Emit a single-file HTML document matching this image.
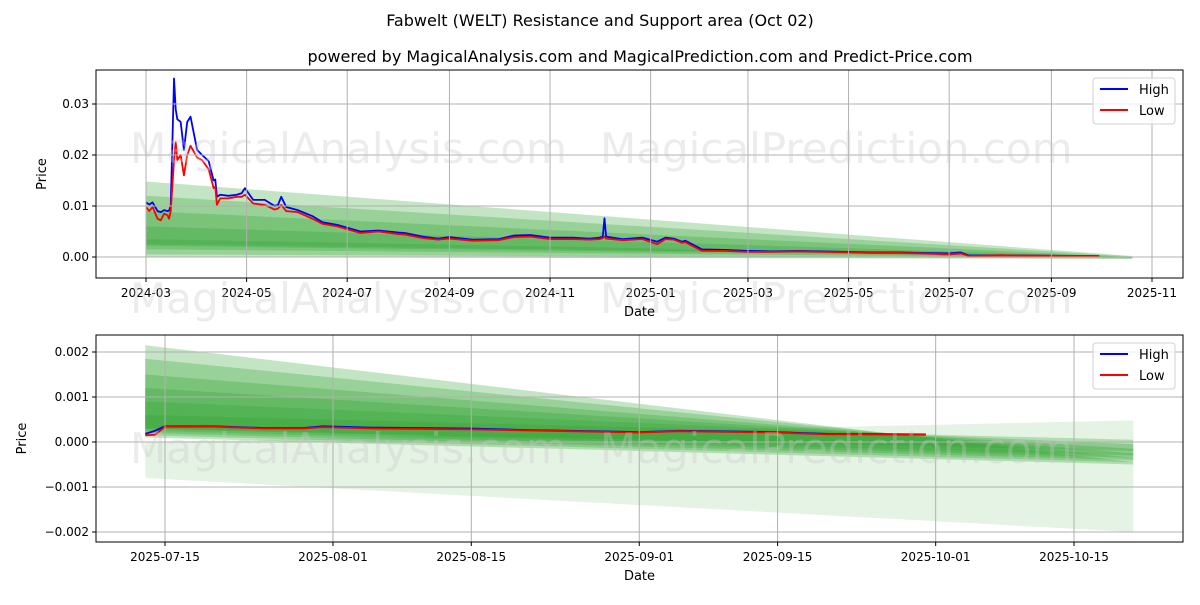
<!DOCTYPE html>
<html><head><meta charset="utf-8"><style>
body{margin:0;background:#fff;font-family:"Liberation Sans","DejaVu Sans",sans-serif}
svg text{font-family:"DejaVu Sans","Liberation Sans",sans-serif}
</style></head><body>
<svg id="c" width="1200" height="600" viewBox="0 0 1200 600" xmlns="http://www.w3.org/2000/svg">
<rect width="1200" height="600" fill="#fff"/>
<text x="600" y="26" text-anchor="middle" font-size="16">Fabwelt (WELT) Resistance and Support area (Oct 02)</text>
<text x="640" y="62" text-anchor="middle" font-size="16">powered by MagicalAnalysis.com and MagicalPrediction.com and Predict-Price.com</text>
</svg>
<script>
// ---- data: top chart ----
const topDates=["2024-03-01","2024-03-03","2024-03-05","2024-03-08","2024-03-10","2024-03-12","2024-03-14","2024-03-15","2024-03-16","2024-03-18","2024-03-19","2024-03-20","2024-03-22","2024-03-24","2024-03-26","2024-03-28","2024-04-01","2024-04-04","2024-04-08","2024-04-11","2024-04-12","2024-04-13","2024-04-15","2024-04-20","2024-04-25","2024-04-28","2024-04-30","2024-05-05","2024-05-12","2024-05-18","2024-05-20","2024-05-22","2024-05-25","2024-06-01","2024-06-10","2024-06-16","2024-06-25","2024-07-09","2024-07-20","2024-08-01","2024-08-05","2024-08-16","2024-08-25","2024-09-01","2024-09-15","2024-10-01","2024-10-10","2024-10-20","2024-11-01","2024-11-15","2024-11-25","2024-12-01","2024-12-03","2024-12-04","2024-12-05","2024-12-15","2024-12-27","2025-01-05","2025-01-10","2025-01-15","2025-01-20","2025-01-22","2025-02-01","2025-02-15","2025-03-01","2025-03-15","2025-04-01","2025-04-15","2025-05-01","2025-05-15","2025-06-01","2025-06-15","2025-07-01","2025-07-08","2025-07-13","2025-08-01","2025-09-01","2025-09-30"];
const topHigh=[0.0107,0.0103,0.0107,0.0090,0.0088,0.0092,0.0090,0.0091,0.0100,0.0350,0.0290,0.0270,0.0265,0.0210,0.0265,0.0275,0.0210,0.0200,0.0188,0.0150,0.0152,0.0118,0.0122,0.0120,0.0122,0.0125,0.0135,0.0112,0.0112,0.0100,0.0102,0.0118,0.0098,0.0092,0.0080,0.0068,0.0063,0.0050,0.0052,0.0048,0.0047,0.0040,0.0036,0.0039,0.0034,0.0035,0.0042,0.0043,0.0038,0.0038,0.0036,0.0038,0.0040,0.0076,0.0040,0.0035,0.0038,0.0030,0.0038,0.0036,0.0030,0.0032,0.0015,0.0014,0.0012,0.0011,0.0012,0.0011,0.0010,0.0009,0.0009,0.0008,0.0007,0.0009,0.0003,0.00035,0.00025,0.00018];
const topLow=[0.0098,0.0090,0.0098,0.0075,0.0072,0.0085,0.0082,0.0075,0.0090,0.0190,0.0225,0.0190,0.0200,0.0160,0.0200,0.0218,0.0195,0.0190,0.0172,0.0135,0.0138,0.0102,0.0115,0.0115,0.0118,0.0118,0.0122,0.0105,0.0102,0.0093,0.0095,0.0102,0.0090,0.0088,0.0075,0.0065,0.0060,0.0047,0.0050,0.0045,0.0044,0.0037,0.0034,0.0036,0.0032,0.0033,0.0039,0.0040,0.0035,0.0035,0.0034,0.0035,0.0037,0.0040,0.0036,0.0033,0.0035,0.0025,0.0035,0.0034,0.0028,0.0029,0.0012,0.0012,0.0010,0.0010,0.0011,0.0010,0.0009,0.0008,0.0008,0.0007,0.0005,0.0007,0.0002,0.00033,0.00023,0.00017];
const topYTicks=[0,0.01,0.02,0.03];
const topXTicks=["2024-03-01","2024-05-01","2024-07-01","2024-09-01","2024-11-01","2025-01-01","2025-03-01","2025-05-01","2025-07-01","2025-09-01","2025-11-01"];
// bands: [upperStart, upperEnd, lowerStart, lowerEnd]
const topBands=[[0.0148,0.0002,0.0000,-0.0004],[0.0120,0.0001,0.0005,-0.0003],[0.0090,0.0000,0.0015,-0.0002],[0.0060,0.0000,0.0022,-0.0001],[0.0035,0.0000,0.0025,0.0000]];
const bandStart="2024-03-01", bandEnd="2025-10-20";
// ---- data: bottom chart ----
const botDates=["2025-07-13","2025-07-14","2025-07-15","2025-07-20","2025-07-25","2025-07-29","2025-07-31","2025-08-05","2025-08-15","2025-08-20","2025-08-25","2025-09-01","2025-09-05","2025-09-15","2025-09-20","2025-09-30"];
const botHigh=[0.00018,0.00025,0.00035,0.00035,0.00031,0.00031,0.00035,0.00032,0.00030,0.00027,0.00025,0.00022,0.00025,0.00022,0.00018,0.00017];
const botLow=[0.00015,0.00016,0.00034,0.00034,0.00030,0.00030,0.00033,0.00030,0.00028,0.00026,0.00024,0.00021,0.00024,0.00021,0.00017,0.00016];
const botYTicks=[-0.002,-0.001,0,0.001,0.002];
const botYLabels=["\u22120.002","\u22120.001","0.000","0.001","0.002"];
const botXTicks=["2025-07-15","2025-08-01","2025-08-15","2025-09-01","2025-09-15","2025-10-01","2025-10-15"];
const botBands=[[0.00215,-0.00045,0.00010,-0.00050],[0.00185,-0.00035,0.00015,-0.00045],[0.00150,-0.00025,0.00020,-0.00040],[0.00120,-0.00015,0.00025,-0.00035],[0.00090,-0.00005,0.00030,-0.00030],[0.00060,0.00005,0.00030,-0.00020]];
const botLight=[0.00000,0.00048,-0.00080,-0.00200];
const botBandStart="2025-07-13", botBandEnd="2025-10-21";

const NS="http://www.w3.org/2000/svg";
const svg=document.getElementById('c');
const day=s=>Date.parse(s)/86400000;
function mk(tag,attrs,parent){const e=document.createElementNS(NS,tag);for(const k in attrs)e.setAttribute(k,attrs[k]);(parent||svg).appendChild(e);return e;}

function panel(o){
  const g=mk('g',{});
  
  
  const X=d=>o.x0+(day(d)-day(o.d0))*(o.x1-o.x0)/(day(o.d1)-day(o.d0));
  const Y=v=>o.y0+(v-o.v0)*(o.y1-o.y0)/(o.v1-o.v0);
  const cp='cp'+o.name;
  const clip=mk('clipPath',{id:cp},g);mk('rect',{x:o.L,y:o.T,width:o.R-o.L,height:o.B-o.T},clip);
  const gb=mk('g',{'clip-path':`url(#${cp})`},g);
  if(o.light){const b=o.light;const p=mk('polygon',{points:`${X(o.bs)},${Y(b[0])} ${X(o.be)},${Y(b[1])} ${X(o.be)},${Y(b[3])} ${X(o.bs)},${Y(b[2])}`,fill:'#2ca02c','fill-opacity':0.13},gb);
    
    }
  o.bands.forEach((b,i)=>{const p=mk('polygon',{points:`${X(o.bs)},${Y(b[0])} ${X(o.be)},${Y(b[1])} ${X(o.be)},${Y(b[3])} ${X(o.bs)},${Y(b[2])}`,fill:'#2ca02c','fill-opacity':0.28},gb);
    
    });
  o.yt.forEach((v,i)=>{mk('line',{x1:o.L,x2:o.R,y1:Y(v),y2:Y(v),stroke:'#b0b0b0','stroke-width':1},g);
    mk('line',{x1:o.L-4,x2:o.L,y1:Y(v),y2:Y(v),stroke:'#000'},g);
    const t=mk('text',{x:o.L-7,y:Y(v)+4,'text-anchor':'end','font-size':12},g);t.textContent=o.yl[i];
    
    });
  o.xt.forEach(d=>{mk('line',{x1:X(d),x2:X(d),y1:o.T,y2:o.B,stroke:'#b0b0b0','stroke-width':1},g);
    mk('line',{x1:X(d),x2:X(d),y1:o.B,y2:o.B+4,stroke:'#000'},g);
    const t=mk('text',{x:X(d),y:o.B+19,'text-anchor':'middle','font-size':12},g);t.textContent=o.xfmt(d);
    
    });
  o.wm.forEach(w=>{const t=mk('text',{x:w[0],y:w[1],'font-size':42,fill:'#c8c8c8','fill-opacity':0.35},g);t.textContent=w[2];
    
    });
  const line=(vals,col,nm)=>{const p=mk('polyline',{points:o.dates.map((d,i)=>X(d)+','+Y(vals[i])).join(' '),fill:'none',stroke:col,'stroke-width':1.8,'stroke-linejoin':'round'},gb);
    
    };
  line(o.high,'#0000ff','high-line');line(o.low,'#ff0000','low-line');
  const fr=mk('rect',{x:o.L,y:o.T,width:o.R-o.L,height:o.B-o.T,fill:'none',stroke:'#000','stroke-width':1},g);
  
  
  const xt=mk('text',{x:(o.L+o.R)/2,y:o.B+38,'text-anchor':'middle','font-size':13},g);xt.textContent='Date';
  
  
  const yt=mk('text',{x:0,y:0,'text-anchor':'middle','font-size':13,transform:`translate(${o.yTitleX},${(o.T+o.B)/2}) rotate(-90)`},g);yt.textContent='Price';
  
  
  const lg=mk('g',{},g);
  
  
  mk('rect',{x:1093,y:o.T+8,width:82,height:46,rx:3,fill:'#fff','fill-opacity':0.8,stroke:'#d0d0d0'},lg);
  [['High','#0000ff',0],['Low','#ff0000',1]].forEach(e=>{const yy=o.T+19+e[2]*21;
    const le=mk('g',{},lg);
    
    
    mk('line',{x1:1100,x2:1128,y1:yy,y2:yy,stroke:e[1],'stroke-width':2},le);
    const t=mk('text',{x:1139,y:yy+5,'font-size':13},le);t.textContent=e[0];});
}
const ym=d=>d.slice(0,7);
panel({name:'top-panel',L:96,R:1183,T:70,B:278,x0:146,x1:1152,d0:'2024-03-01',d1:'2025-11-01',y0:257,y1:104,v0:0,v1:0.03,
  dates:topDates,high:topHigh,low:topLow,yt:topYTicks,yl:["0.00","0.01","0.02","0.03"],xt:topXTicks,xfmt:ym,
  bands:topBands,bs:bandStart,be:bandEnd,yTitleX:46,
  wm:[[130,163,'MagicalAnalysis.com'],[600,163,'MagicalPrediction.com'],[130,313,'MagicalAnalysis.com'],[600,313,'MagicalPrediction.com']]});
panel({name:'bottom-panel',L:96,R:1183,T:335,B:542,x0:165,x1:1074,d0:'2025-07-15',d1:'2025-10-15',y0:442,y1:352,v0:0,v1:0.002,
  dates:botDates,high:botHigh,low:botLow,yt:botYTicks,yl:botYLabels,xt:botXTicks,xfmt:d=>d,
  bands:botBands,light:botLight,bs:botBandStart,be:botBandEnd,yTitleX:26,
  wm:[[130,463,'MagicalAnalysis.com'],[600,463,'MagicalPrediction.com']]});
</script>
</body></html>
